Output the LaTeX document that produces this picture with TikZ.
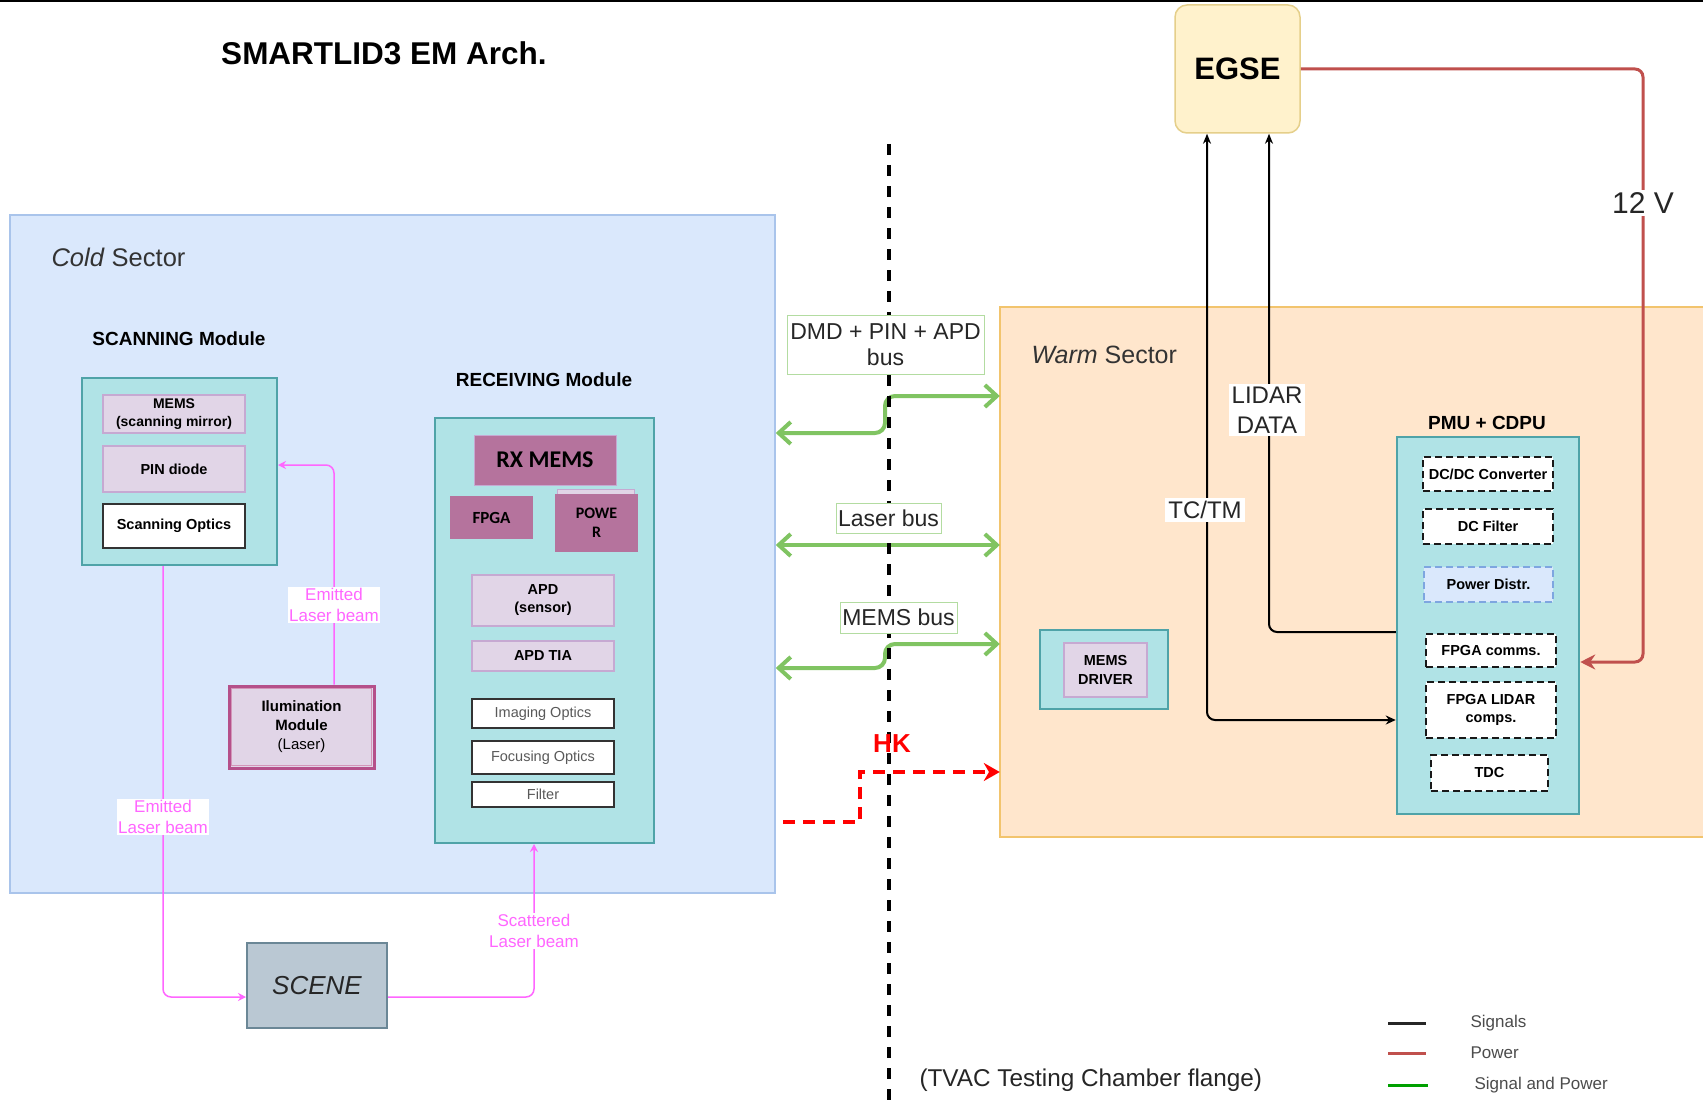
\documentclass[tikz,border=0pt]{standalone}
\usepackage{fontspec}
\setmainfont{Liberation Sans}
\newfontfamily\calib{Carlito}
\usetikzlibrary{arrows.meta,calc}
\definecolor{coldF}{HTML}{DAE8FC}
\definecolor{coldD}{HTML}{A9C4EB}
\definecolor{warmF}{HTML}{FFE6CC}
\definecolor{warmD}{HTML}{F2C46D}
\definecolor{tealF}{HTML}{B0E3E6}
\definecolor{tealD}{HTML}{4FA3A8}
\definecolor{lavF}{HTML}{E1D5E7}
\definecolor{lavD}{HTML}{C6A9D2}
\definecolor{mauveF}{HTML}{B5739D}
\definecolor{pinkL}{HTML}{FF66FF}
\definecolor{greenL}{HTML}{80C462}
\definecolor{redL}{HTML}{C0504D}
\definecolor{egseF}{HTML}{FFF2CC}
\definecolor{egseD}{HTML}{E5CF8A}
\definecolor{sceneF}{HTML}{BAC8D3}
\definecolor{sceneD}{HTML}{6B8796}
\definecolor{illD}{HTML}{B5508A}
\definecolor{pdF}{HTML}{DAE8FC}
\definecolor{pdD}{HTML}{7EA6E0}
\definecolor{legG}{HTML}{00A000}
\newcommand\fs[2]{\fontsize{#1}{#2}\selectfont}
\begin{document}
\begin{tikzpicture}[x=1pt,y=-1pt,
  box/.style={rectangle, inner sep=0pt, align=center},
  teal/.style={box, fill=tealF, draw=tealD, line width=2pt},
  lav/.style={box, fill=lavF, draw=lavD, line width=1.6pt, font=\bfseries\fs{14}{18}},
  wbox/.style={box, fill=white, draw=black!80, line width=2pt},
  dbox/.style={box, fill=white, draw=black!90, line width=2.2pt, dash pattern=on 7pt off 4pt, font=\bfseries\fs{14.5}{18}},
  mauve/.style={box, fill=mauveF, font=\calib\bfseries\fs{17}{19}},
  pinkarrow/.style={draw=pinkL, line width=1.5pt, rounded corners=8pt, -{Stealth[length=8pt,width=8pt]}},
  pinklab/.style={fill=white, text=pinkL, font=\fs{17}{21}, align=center, inner sep=1.5pt},
  greenarr/.style={draw=greenL, line width=4pt, rounded corners=10pt, {Straight Barb[length=12pt,width=22pt]}-{Straight Barb[length=12pt,width=22pt]}},
  busl/.style={box, draw=greenL!60, line width=1pt, fill=white, font=\fs{23}{26}, text=black!85},
  sig/.style={draw=black, line width=2pt, rounded corners=8pt},
  pwr/.style={draw=redL, line width=3pt, rounded corners=8pt},
  wlab/.style={fill=white, inner sep=3pt, align=center, text=black!85},
  hkline/.style={draw=red, line width=4pt, dash pattern=on 12pt off 8pt, -{Stealth[length=16pt,width=18pt]}},
  flange/.style={draw=black, line width=4pt, dash pattern=on 11pt off 10pt},
  leglab/.style={anchor=west, font=\fs{17}{20}, text=black!70}
]
\useasboundingbox (0,0) rectangle (1703,1105);
\fill[white] (0,0) rectangle (1703,1105);
\draw[line width=2pt] (0,1) -- (1703,1);

% title
\node[font=\bfseries\fs{31.5}{36}] (title) at (384,53) {SMARTLID3 EM Arch.};

% sectors
\node[box, fill=coldF, draw=coldD, line width=1.5pt, minimum width=765pt, minimum height=678pt] (cold) at (392.5,554) {};
\node[anchor=west, font=\fs{25.5}{30}, text=black!80] (coldlab) at (48,257) {\textit{Cold} Sector};
\node[box, fill=warmF, minimum width=703pt, minimum height=530pt] (warm) at (1351.5,572) {};
\draw[warmD, line width=1.5pt] (warm.north east) -- (warm.north west) -- (warm.south west) -- (warm.south east);
\node[anchor=west, font=\fs{25}{30}, text=black!80] (warmlab) at (1028,355) {\textit{Warm} Sector};

% scanning module
\node[font=\bfseries\fs{19}{22}] (scanlab) at (179,339) {SCANNING Module};
\node[teal, minimum width=195pt, minimum height=187pt] (scan) at (179.5,471.5) {};
\node[lav, minimum width=142pt, minimum height=38pt] (mems) at (174,414) {MEMS\\(scanning mirror)};
\node[lav, minimum width=142pt, minimum height=46pt, font=\bfseries\fs{14.5}{18}] (pin) at (174,469) {PIN diode};
\node[wbox, minimum width=142pt, minimum height=44pt, font=\bfseries\fs{14.5}{18}] (scanopt) at (174,526) {Scanning Optics};

% receiving module
\node[font=\bfseries\fs{19}{22}] (recvlab) at (544,380) {RECEIVING Module};
\node[teal, minimum width=219pt, minimum height=425pt] (recv) at (544.5,630.5) {};
\node[mauve, draw=lavD, line width=1pt, minimum width=142pt, minimum height=50pt, font=\calib\bfseries\fs{24}{28}] (rxmems) at (545,460) {RX MEMS};
\node[mauve, minimum width=83pt, minimum height=43pt] (fpga) at (491.5,517.5) {FPGA};
\node[box, fill=lavF, draw=lavD, line width=1pt, minimum width=77pt, minimum height=52pt] (powerbg) at (595.5,515) {};
\node[mauve, minimum width=83pt, minimum height=58pt, font=\calib\bfseries\fs{16}{19}] (power) at (596.5,523) {POWE\\R};
\node[lav, minimum width=142pt, minimum height=51pt, font=\bfseries\fs{14.5}{18}] (apd) at (543,600.5) {APD\\(sensor)};
\node[lav, minimum width=142pt, minimum height=30pt, font=\bfseries\fs{14.5}{18}] (apdtia) at (543,656) {APD TIA};
\node[wbox, minimum width=142pt, minimum height=29pt, font=\fs{14.5}{18}, text=black!65] (imaging) at (543,713.5) {Imaging Optics};
\node[wbox, minimum width=142pt, minimum height=33pt, font=\fs{14.5}{18}, text=black!65] (focusing) at (543,757.5) {Focusing Optics};
\node[wbox, minimum width=142pt, minimum height=25pt, font=\fs{14.5}{18}, text=black!65] (filter) at (543,794.5) {Filter};

% illumination
\node[box, fill=lavF, draw=illD, line width=3pt, minimum width=145pt, minimum height=82pt, font=\fs{15}{19}] (illum) at (301.5,727) {\bfseries Ilumination\\\bfseries Module\\(Laser)};
\draw[illD!60, line width=1pt] ($(illum.north west)+(4,4)$) rectangle ($(illum.south east)+(-4,-4)$);

% scene
\node[box, fill=sceneF, draw=sceneD, line width=2pt, minimum width=140pt, minimum height=85pt, font=\itshape\fs{26}{30}, text=black!85] (scene) at (317,985.5) {SCENE};

% pink laser paths
\coordinate (bx) at (334,0);
\coordinate (ya) at (0,465);
\coordinate (lx) at (163,0);
\coordinate (sy) at (0,997);
\coordinate (rx) at (534,0);
\draw[pinkarrow] (illum.north -| bx) |- (scan.east |- ya);
\draw[pinkarrow] (scan.south -| lx) |- (scene.west |- sy);
\draw[pinkarrow] (scene.east |- sy) -| (recv.south -| rx);
\node[pinklab] (em1) at (334,605) {Emitted\\Laser beam};
\node[pinklab] (em2) at (163,817) {Emitted\\Laser beam};
\node[pinklab] (sc) at (534,931) {Scattered\\Laser beam};

% green buses
\coordinate (gx) at (885,0);
\coordinate (g1a) at (0,433);
\coordinate (g1b) at (0,396);
\coordinate (g2) at (0,545);
\coordinate (g3a) at (0,668);
\coordinate (g3b) at (0,644);
\draw[greenarr] (cold.east |- g1a) -- (gx |- g1a) -- (gx |- g1b) -- (warm.west |- g1b);
\draw[greenarr] (cold.east |- g2) -- (warm.west |- g2);
\draw[greenarr] (cold.east |- g3a) -- (gx |- g3a) -- (gx |- g3b) -- (warm.west |- g3b);

% HK
\coordinate (hk0) at (783,822);
\coordinate (hkx) at (860,0);
\coordinate (hky) at (0,772);
\draw[hkline] (hk0) -- (hkx |- hk0) -- (hkx |- hky) -- (warm.west |- hky);

% flange line
\coordinate (fl1) at (889,144);
\coordinate (fl2) at (889,1105);
\draw[flange] (fl1) -- (fl2);

% bus labels
\node[busl, minimum width=197pt, minimum height=59pt] (dmdlab) at (885.5,345) {DMD + PIN + APD\\bus};
\node[busl, minimum width=105pt, minimum height=30pt] (laserlab) at (888.5,518) {Laser bus};
\node[busl, minimum width=117pt, minimum height=31pt] (memslab) at (898.5,617.5) {MEMS bus};
\node[font=\bfseries\fs{26}{30}, text=red] (hk) at (892,744) {HK};

% EGSE
\node[box, rounded corners=12pt, fill=egseF, draw=egseD, line width=1.5pt, minimum width=125pt, minimum height=128pt, font=\bfseries\fs{31}{36}] (egse) at (1237.5,69) {EGSE};

% PMU + CDPU
\node[font=\bfseries\fs{19}{22}] (pmulab) at (1487,423) {PMU + CDPU};
\node[teal, line width=2.5pt, minimum width=182pt, minimum height=377pt] (pmu) at (1488,625.5) {};
\node[dbox, minimum width=130pt, minimum height=34pt] (dcdc) at (1488,474) {DC/DC Converter};
\node[dbox, minimum width=130pt, minimum height=35pt] (dcfilter) at (1488,526.5) {DC Filter};
\node[dbox, fill=pdF, draw=pdD, minimum width=129pt, minimum height=35pt] (pdistr) at (1488.5,584.5) {Power Distr.};
\node[dbox, minimum width=130pt, minimum height=33pt] (fcomms) at (1491,650.5) {FPGA comms.};
\node[dbox, minimum width=130pt, minimum height=56pt] (flidar) at (1491,710) {FPGA LIDAR\\comps.};
\node[dbox, minimum width=117pt, minimum height=36pt] (tdc) at (1489.5,773) {TDC};

% MEMS driver
\node[teal, minimum width=128pt, minimum height=79pt] (mdrv) at (1104,669.5) {};
\node[lav, minimum width=83pt, minimum height=54pt, font=\bfseries\fs{14.5}{19}] (mdrvin) at (1105.5,670) {MEMS\\DRIVER};

% signals
\coordinate (tcx) at (1207,0);
\coordinate (tcy) at (0,720);
\coordinate (ldx) at (1269,0);
\coordinate (ldy) at (0,632);
\draw[sig, {Stealth[length=10pt,width=8pt]}-{Stealth[length=10pt,width=9pt]}] (egse.south -| tcx) -- (tcx |- tcy) -- (pmu.west |- tcy);
\draw[sig, -{Stealth[length=10pt,width=8pt]}] (pmu.west |- ldy) -- (ldx |- ldy) -- (egse.south -| ldx);
\node[wlab, font=\fs{24}{30}] (tctm) at (1205,510) {TC/TM};
\node[wlab, font=\fs{24}{30}] (lidar) at (1267,410) {LIDAR\\DATA};

% power
\coordinate (px) at (1643,0);
\coordinate (py) at (0,662);
\draw[pwr, -{Stealth[length=15pt,width=15pt,inset=5pt]}] (egse.east) -- (px |- egse.east) -- (px |- py) -- (pmu.east |- py);
\node[wlab, font=\fs{30}{34}] (v12) at (1643,203) {12 V};

% legend
\coordinate (lg1a) at (1388,1023); \coordinate (lg1b) at (1426,1023);
\coordinate (lg2a) at (1388,1053); \coordinate (lg2b) at (1426,1053);
\coordinate (lg3a) at (1388,1085); \coordinate (lg3b) at (1428,1085);
\draw[black!85, line width=3pt] (lg1a) -- (lg1b);
\draw[redL, line width=3pt] (lg2a) -- (lg2b);
\draw[legG, line width=3pt] (lg3a) -- (lg3b);
\node[leglab] (l1) at (1467,1023) {Signals};
\node[leglab] (l2) at (1467,1053) {Power};
\node[leglab] (l3) at (1471,1085) {Signal and Power};

% flange caption
\node[anchor=west, font=\fs{24.3}{28}, text=black!85] (tvac) at (916,1080) {(TVAC Testing Chamber flange)};
\end{tikzpicture}
\end{document}
